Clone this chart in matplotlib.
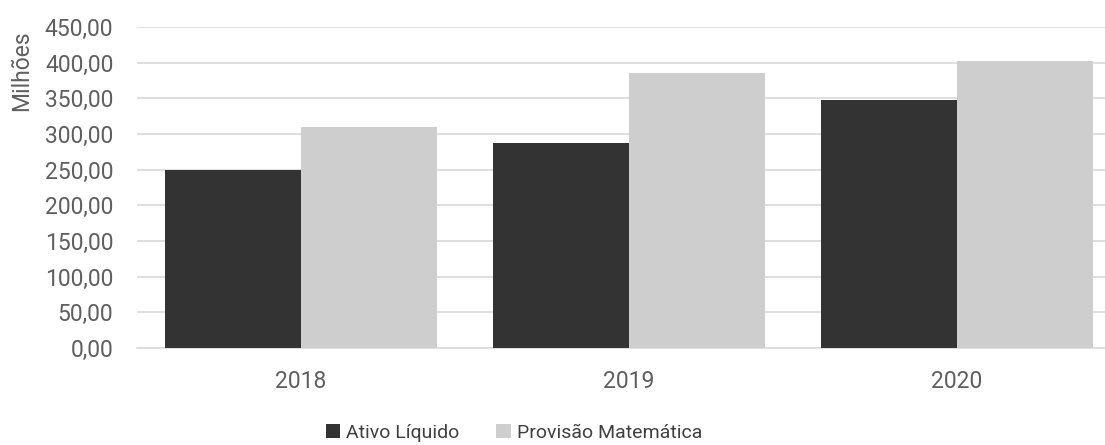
import matplotlib
matplotlib.use('Agg')
import matplotlib.pyplot as plt
import numpy as np
from matplotlib.ticker import FuncFormatter

# Dados (em milhões)
anos = ['2018', '2019', '2020']
ativo_liquido = [249.5, 287.0, 347.5]
provisao_matematica = [309.5, 386.0, 403.0]

cor_ativo = '#333333'
cor_provisao = '#cecece'
cor_texto = '#5f5f5f'

plt.rcParams['font.family'] = ['Roboto', 'DejaVu Sans']

fig = plt.figure(figsize=(11.05, 4.45), dpi=100)
# o eixo passa um pouco da borda direita, como no original
ax = fig.add_axes([137 / 1105, 0.218, 984 / 1105, 0.721])

x = np.arange(len(anos))
largura = 0.416
ax.bar(x - largura / 2, ativo_liquido, largura, color=cor_ativo, label='Ativo Líquido', zorder=3)
ax.bar(x + largura / 2, provisao_matematica, largura, color=cor_provisao, label='Provisão Matemática', zorder=3)

ax.set_xlim(-0.5, len(anos) - 0.5)
ax.set_ylim(0, 450)
ax.set_yticks(np.arange(0, 451, 50))
ax.yaxis.set_major_formatter(FuncFormatter(lambda v, p: f'{v:.2f}'.replace('.', ',')))
ax.set_xticks(x)
ax.set_xticklabels(anos)

ax.grid(axis='y', color='#d9d9d9', linewidth=1.2, zorder=0)
for lado in ['top', 'right', 'left']:
    ax.spines[lado].set_visible(False)
ax.spines['bottom'].set_color('#d9d9d9')
ax.spines['bottom'].set_linewidth(1.2)
ax.tick_params(axis='both', length=0, labelsize=16.5, labelcolor=cor_texto)
ax.tick_params(axis='y', pad=17)
ax.tick_params(axis='x', pad=16)

fig.text(22 / 1105, 1 - 71 / 445, 'Milhões', rotation=90, ha='center', va='center',
         fontsize=16.5, color=cor_texto)

leg = fig.legend(loc='center', bbox_to_anchor=(0.465, 1 - 433 / 445), ncol=2, frameon=False,
                 prop={'size': 14}, handlelength=0.75, handleheight=0.75,
                 handletextpad=0.3, columnspacing=1.9)
for t in leg.get_texts():
    t.set_color('#404040')

fig.savefig('out.png', dpi=100)
